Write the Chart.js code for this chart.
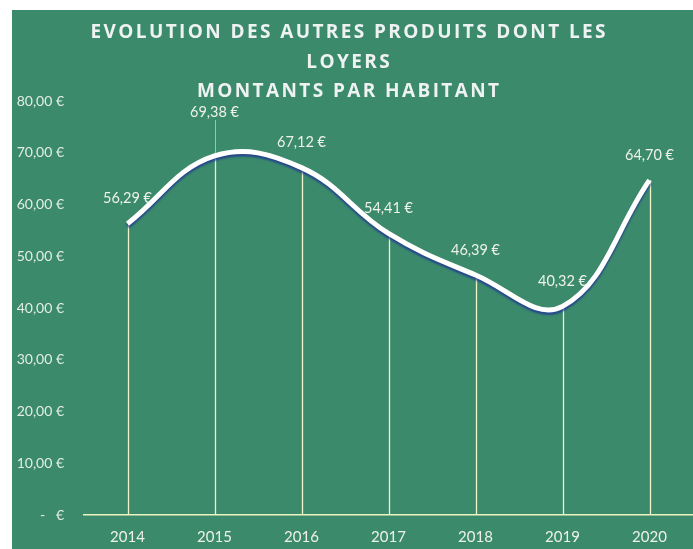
<!DOCTYPE html>
<html><head><meta charset="utf-8">
<script src="https://cdn.jsdelivr.net/npm/chart.js@4"></script>
<style>
html,body{margin:0;padding:0;background:#fff;}
#wrap{position:absolute;left:12px;top:10px;width:681px;height:539px;background:#3b8a6b;overflow:hidden;}
</style></head><body>
<div id="wrap"><canvas id="c" width="681" height="539"></canvas></div>
<script>
const categories = ['2014','2015','2016','2017','2018','2019','2020'];
const values = [56.29, 69.38, 67.12, 54.41, 46.39, 40.32, 64.70];
const yTicks = [0,10,20,30,40,50,60,70,80];
const titleLines = ['EVOLUTION DES AUTRES PRODUITS DONT LES','LOYERS','MONTANTS PAR HABITANT'];

const fmt = v => v === 0 ? '-   €' : v.toFixed(2).replace('.', ',') + ' €';
const FONT = 'Lato, "Open Sans", sans-serif';
const TFONT = '"Open Sans", Lato, sans-serif';

const deco = {
  id: 'deco',
  beforeDatasetsDraw(chart) {
    const ctx = chart.ctx, meta = chart.getDatasetMeta(0), bottom = chart.chartArea.bottom;
    ctx.save();
    ctx.strokeStyle = '#eef3c8';
    ctx.lineWidth = 1.3;
    meta.data.forEach((p, i) => {
      ctx.beginPath();
      ctx.moveTo(Math.round(p.x)+0.5, p.y);
      ctx.lineTo(Math.round(p.x)+0.5, bottom);
      ctx.stroke();
    });
    const p = meta.data[1];
    ctx.strokeStyle = 'rgba(150,200,230,0.9)';
    ctx.lineWidth = 1;
    ctx.beginPath();
    ctx.moveTo(Math.round(p.x)+0.5, p.y);
    ctx.lineTo(Math.round(p.x)+0.5, p.y - 36);
    ctx.stroke();
    ctx.restore();
  },
  beforeDatasetDraw(chart) {
    const ctx = chart.ctx;
    ctx.save();
    ctx.shadowColor = 'rgba(30,50,150,0.75)';
    ctx.shadowOffsetX = 0;
    ctx.shadowOffsetY = 2.5;
    ctx.shadowBlur = 2;
  },
  afterDatasetDraw(chart) { chart.ctx.restore(); },
  afterDraw(chart) {
    const ctx = chart.ctx, meta = chart.getDatasetMeta(0);
    ctx.save();
    ctx.fillStyle = '#eef2ea';
    ctx.font = '14.5px ' + FONT;
    ctx.textAlign = 'center';
    ctx.textBaseline = 'middle';
    meta.data.forEach((p, i) => {
      const off = i === 1 ? 44 : 25;
      ctx.fillText(fmt(values[i]), p.x, p.y - off);
    });
    ctx.fillStyle = '#eef2f2';
    ctx.font = 'bold 19px ' + TFONT;
    const w0 = ctx.measureText(titleLines[0]).width;
    const ls = Math.max(0, (515 - w0) / (titleLines[0].length - 1));
    ctx.letterSpacing = ls.toFixed(2) + 'px';
    const cx = 336;
    [23, 53, 82].forEach((y, i) => ctx.fillText(titleLines[i], cx + ls/2, y));
    ctx.restore();
  }
};

new Chart(document.getElementById('c'), {
  type: 'line',
  data: {
    labels: categories,
    datasets: [{
      data: values,
      borderColor: '#ffffff',
      borderWidth: 5,
      pointRadius: 0,
      tension: 0.4,
      fill: false
    }]
  },
  options: {
    responsive: false,
    animation: false,
    layout: { padding: { top: 91, bottom: 0, left: 0, right: 0 } },
    plugins: { legend: { display: false }, title: { display: false }, tooltip: { enabled: false } },
    scales: {
      x: {
        offset: true,
        afterFit(s) { s.height = 34; },
        grid: { display: false, drawTicks: false, offset: true },
        border: { display: true, color: '#eef3c0', width: 1.6 },
        ticks: { color: '#eef1ea', font: { family: FONT, size: 15 }, padding: 13 }
      },
      y: {
        min: 0, max: 80,
        afterFit(s) { s.width = 72; },
        afterBuildTicks(s) { s.ticks = yTicks.map(v => ({ value: v })); },
        grid: { display: false, drawTicks: false },
        border: { display: false },
        ticks: { color: '#e3ede8', font: { family: FONT, size: 14 }, padding: 20, callback: v => fmt(v) }
      }
    }
  },
  plugins: [deco]
});
</script>
</body></html>
